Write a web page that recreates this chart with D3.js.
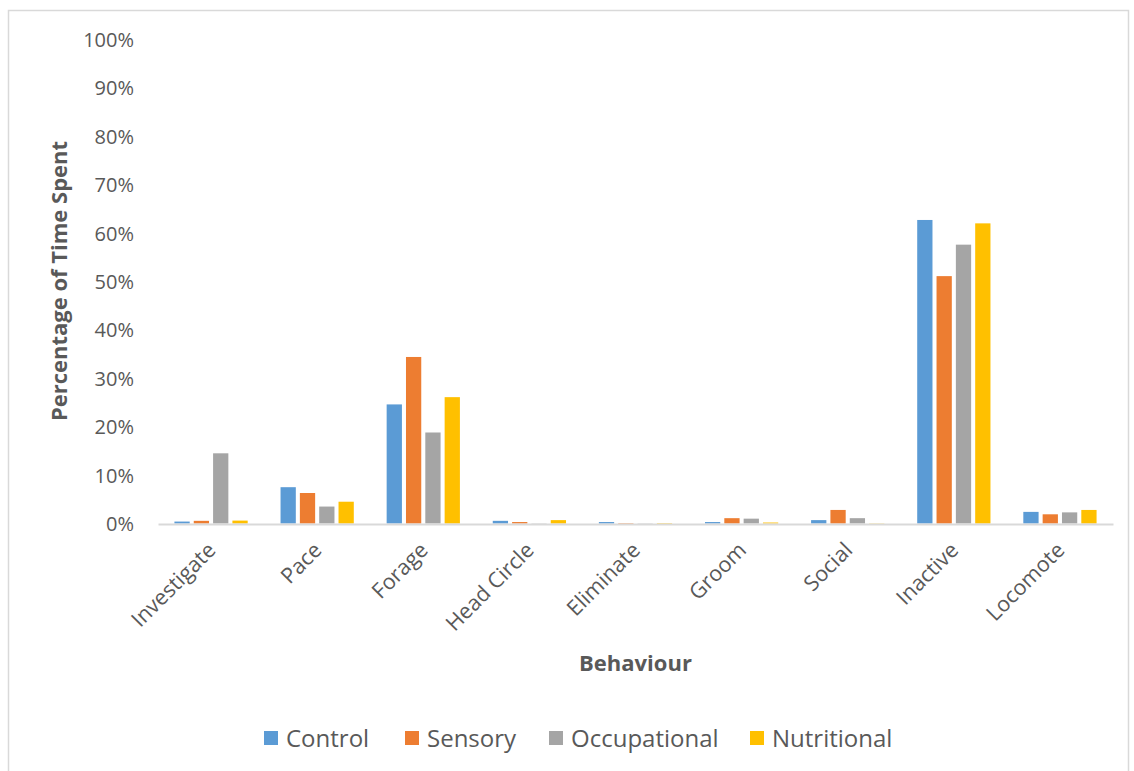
<!DOCTYPE html>
<html>
<head>
<meta charset="utf-8">
<script src="https://cdn.jsdelivr.net/npm/d3@7"></script>
<style>
  html, body { margin: 0; padding: 0; background: #fff; }
  svg { display: block; }
  text { font-family: "Open Sans", "Segoe UI", sans-serif; fill: #595959; }
</style>
</head>
<body>
<svg id="chart" width="1134" height="771"></svg>
<script>
// Behaviour categories along the x axis
const categories = ["Investigate", "Pace", "Forage", "Head Circle", "Eliminate", "Groom", "Social", "Inactive", "Locomote"];

// Series (treatment groups)
const seriesNames = ["Control", "Sensory", "Occupational", "Nutritional"];
const seriesColors = ["#5B9BD5", "#ED7D31", "#A5A5A5", "#FFC000"];

// Percentage of time spent per behaviour, one array per group
const control      = [0.4, 7.5, 24.6, 0.55, 0.3, 0.3, 0.7, 62.7, 2.4];
const sensory      = [0.55, 6.3, 34.4, 0.3, 0.1, 1.1, 2.8, 51.1, 1.9];
const occupational = [14.5, 3.5, 18.8, 0.05, 0.05, 1.0, 1.1, 57.6, 2.3];
const nutritional  = [0.6, 4.5, 26.1, 0.7, 0.1, 0.2, 0.05, 62.0, 2.8];

// Y axis ticks (percent)
const yTicks = [0, 10, 20, 30, 40, 50, 60, 70, 80, 90, 100];

const seriesValues = [control, sensory, occupational, nutritional];

const svg = d3.select("#chart");

// Outer chart frame
svg.append("rect")
  .attr("x", 8.5).attr("y", 10.5)
  .attr("width", 1120).attr("height", 800)
  .attr("fill", "none").attr("stroke", "#D9D9D9").attr("stroke-width", 1.5);

const plot = { left: 158, right: 1113, top: 39.4, bottom: 523.5 };

const x0 = d3.scaleBand()
  .domain(categories)
  .range([plot.left, plot.right])
  .paddingInner(0).paddingOuter(0);

const x1 = d3.scaleBand()
  .domain(seriesNames)
  .range([0, x0.bandwidth()])
  .paddingInner(0.21).paddingOuter(0.85);

const y = d3.scaleLinear().domain([0, 100]).range([plot.bottom, plot.top]);

// Y axis tick labels
const yAxis = d3.axisLeft(y)
  .tickValues(yTicks)
  .tickFormat(d => d + "%")
  .tickSize(0)
  .tickPadding(0);

const yg = svg.append("g")
  .attr("transform", `translate(134,0)`)
  .call(yAxis);
yg.select(".domain").remove();
yg.selectAll("text")
  .attr("font-size", 20)
  .attr("dy", "0.35em")
  .style("fill", "#595959")
  .style("font-family", "'Open Sans', sans-serif");

// Bars
const groups = svg.append("g").selectAll("g")
  .data(categories)
  .join("g")
  .attr("transform", d => `translate(${x0(d)},0)`);

groups.selectAll("rect")
  .data((c, i) => seriesNames.map((s, k) => ({ series: s, value: seriesValues[k][i], color: seriesColors[k] })))
  .join("rect")
  .attr("x", d => x1(d.series))
  .attr("width", x1.bandwidth())
  .attr("y", d => y(d.value))
  .attr("height", d => y(0) - y(d.value))
  .attr("fill", d => d.color);

// Category axis line
const xAxis = d3.axisBottom(x0).tickSize(0).tickFormat("");
const xg = svg.append("g")
  .attr("transform", `translate(0,${plot.bottom + 0.5})`)
  .call(xAxis);
xg.select(".domain").attr("stroke", "#D9D9D9").attr("stroke-width", 2);

// Rotated category labels
svg.append("g").selectAll("text")
  .data(categories)
  .join("text")
  .attr("transform", d => `translate(${x0(d) + x0.bandwidth() / 2 + 6},${plot.bottom + 28}) rotate(-45)`)
  .attr("text-anchor", "end")
  .attr("font-size", 21.5)
  .text(d => d);

// Axis titles
svg.append("text")
  .attr("transform", `translate(67,281) rotate(-90)`)
  .attr("text-anchor", "middle")
  .attr("font-size", 22)
  .attr("font-weight", "bold")
  .text("Percentage of Time Spent");

svg.append("text")
  .attr("x", 635.5).attr("y", 671)
  .attr("text-anchor", "middle")
  .attr("font-size", 22)
  .attr("font-weight", "bold")
  .text("Behaviour");

// Legend
const legendX = [264, 405, 549, 750];
const legend = svg.append("g").selectAll("g")
  .data(seriesNames)
  .join("g")
  .attr("transform", (d, i) => `translate(${legendX[i]},731)`);
legend.append("rect")
  .attr("width", 14).attr("height", 14)
  .attr("fill", (d, i) => seriesColors[i]);
legend.append("text")
  .attr("x", 22).attr("y", 15.5)
  .attr("font-size", 24)
  .text(d => d);
</script>
</body>
</html>
